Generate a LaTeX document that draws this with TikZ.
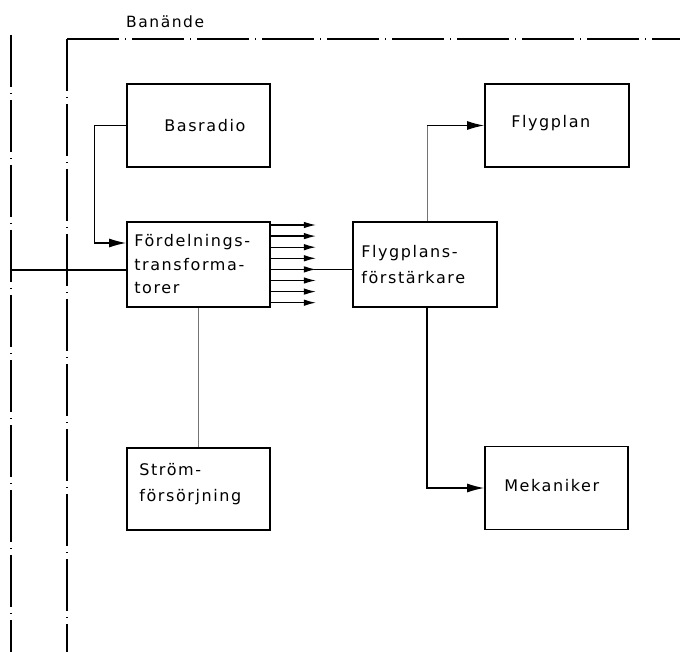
\documentclass[tikz,border=0pt]{standalone}
\usepackage{fontspec}
\setmainfont{DejaVu Sans}[LetterSpace=10]
\usetikzlibrary{arrows.meta}
\begin{document}
\begin{tikzpicture}[x=1pt,y=-1pt,
  box/.style={draw,line width=1.8pt,minimum width=143pt,minimum height=83pt,inner sep=0pt},
  lbl/.style={anchor=west,inner sep=0pt,align=left,font=\fontsize{16}{25}\selectfont},
  conn/.style={line width=1.2pt},
  faint/.style={line width=1pt,black!55},
  bigtip/.style={-{Latex[length=17pt,width=9pt]}},
  smalltip/.style={-{Latex[length=12pt,width=6.5pt]}},
  border/.style={line width=1.1pt,dash pattern=on 52pt off 6pt on 1pt off 6pt}]
\useasboundingbox (0,0) rectangle (680,652);

% runway-end area boundary
\coordinate (tl) at (67,39);
\coordinate (tr) at (680,39);
\coordinate (bl) at (67,652);
\draw[border] (tl) -- (tr);
\draw[border] (tl) -- (bl);
\coordinate (lt) at (11,35);
\coordinate (lb) at (11,652);
\draw[border] (lt) -- (lb);
\node[lbl,font=\fontsize{15.5}{20}\selectfont] (area) at (126,22) {Banände};

% blocks
\node[box] (bas)  at (198.5,125.5) {};
\node[box,minimum height=85pt] (ford) at (198.5,264.5) {};
\node[box,minimum height=82pt] (str)  at (198.5,489) {};
\node[box,minimum width=144pt,minimum height=85pt] (fpa) at (425,264.5) {};
\node[box,minimum width=144pt] (fp)   at (557,125.5) {};
\node[box] (mek)  at (556.5,488) {};

% block texts
\node[lbl] (basT)  at ([xshift=38pt]bas.west)  {Basradio};
\node[lbl,font=\fontsize{16}{23.5}\selectfont] (fordT) at ([xshift=8pt]ford.west) {Fördelnings-\\transforma-\\torer};
\node[lbl,font=\fontsize{16}{26.5}\selectfont] (strT)  at ([xshift=13pt,yshift=5pt]str.west) {Ström-\\försörjning};
\node[lbl,font=\fontsize{16}{26}\selectfont] (fpaT)  at ([xshift=9pt]fpa.west) {Flygplans-\\förstärkare};
\node[lbl] (fpT)   at ([xshift=27pt,yshift=2pt]fp.west)  {Flygplan};
\node[lbl] (mekT)  at ([xshift=20pt,yshift=2pt]mek.west) {Mekaniker};

% connections
\coordinate (feed) at (11,270);
\draw[conn] (feed) -- ([yshift=-5.5pt]ford.west);
\draw[conn,bigtip] (bas.west) -- ++(-32,0) |- ([yshift=21.5pt]ford.west);

\foreach \i in {0,...,7}{
  \draw[conn,smalltip] ([yshift={39.5pt-11.1pt*\i}]ford.east) -- ++(45,0);
}
\draw[conn] ([yshift=-4.9pt]fpa.west) -- ++(-38,0);

\draw[faint] ([xshift=2pt]fpa.north) -- ([xshift=2pt]fpa.north |- fp.west) coordinate (up);
\draw[conn,bigtip] (up) -- (fp.west);
\draw[conn,bigtip] ([xshift=2pt]fpa.south) |- (mek.west);
\draw[faint] (ford.south) -- (str.north);
\end{tikzpicture}
\end{document}
